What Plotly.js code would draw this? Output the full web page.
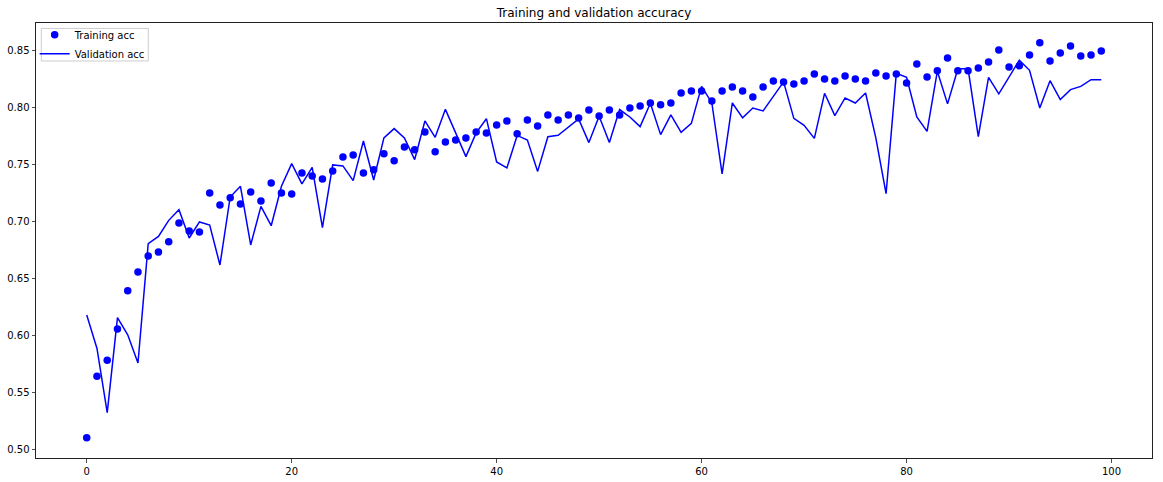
<!DOCTYPE html>
<html>
<head>
<meta charset="utf-8">
<script src="https://cdn.plot.ly/plotly-3.0.1.min.js"></script>
<style>html,body{margin:0;padding:0;background:#fff;}#chart{width:1163px;height:482px;}</style>
</head>
<body>
<div id="chart"></div>
<script>
const epochs = Array.from({length: 100}, (_, i) => i);

const trainingAcc = [
  0.510, 0.564, 0.578, 0.6055, 0.639, 0.6555, 0.6696, 0.673, 0.682, 0.6986,
  0.6916, 0.6907, 0.725, 0.7144, 0.7208, 0.7153, 0.7258, 0.7179, 0.7337, 0.725,
  0.7241, 0.7425, 0.7399, 0.7373, 0.7443, 0.7566, 0.7583, 0.7425, 0.7453, 0.7595,
  0.7533, 0.7654, 0.763, 0.7786, 0.7612, 0.7698, 0.7715, 0.7733, 0.7786, 0.7777,
  0.7847, 0.7882, 0.7769, 0.7891, 0.7838, 0.7935, 0.7891, 0.7935, 0.7909, 0.7979,
  0.7926, 0.7979, 0.7935, 0.7996, 0.8014, 0.804, 0.8024, 0.804, 0.8128, 0.8146,
  0.8146, 0.8058, 0.8146, 0.8181, 0.8146, 0.8093, 0.8181, 0.8234, 0.8225, 0.8207,
  0.8234, 0.8295, 0.8251, 0.8234, 0.8278, 0.8251, 0.8234, 0.8304, 0.8278, 0.8295,
  0.8216, 0.8383, 0.8269, 0.8322, 0.8436, 0.8322, 0.8322, 0.8348, 0.8401, 0.8506,
  0.8357, 0.8366, 0.8462, 0.8568, 0.8409, 0.848, 0.8541, 0.8453, 0.8462, 0.8497
];

const validationAcc = [
  0.6178, 0.5884, 0.532, 0.6154, 0.6004, 0.5756, 0.6804, 0.6868, 0.7009, 0.7103,
  0.6854, 0.6995, 0.6968, 0.6617, 0.7214, 0.7308, 0.6793, 0.7132, 0.6962, 0.7308,
  0.7507, 0.7329, 0.7475, 0.6945, 0.7496, 0.7487, 0.7358, 0.7706, 0.7363, 0.7733,
  0.7815, 0.7733, 0.7542, 0.7882, 0.7738, 0.7984, 0.7777, 0.7569, 0.7777, 0.7902,
  0.7522, 0.7469, 0.7755, 0.7715, 0.7439, 0.7744, 0.7756, 0.7832, 0.79, 0.7692,
  0.7923, 0.7692, 0.7982, 0.7917, 0.7832, 0.8037, 0.7762, 0.7935, 0.7782, 0.7861,
  0.8186, 0.804, 0.7417, 0.804, 0.7909, 0.7996, 0.797, 0.8098, 0.8225, 0.7905,
  0.7843, 0.7729, 0.8125, 0.7929, 0.8084, 0.804, 0.8128, 0.7733, 0.7243, 0.83,
  0.8265, 0.7917, 0.7791, 0.8318, 0.8032, 0.8339, 0.8342, 0.7744, 0.8265, 0.812,
  0.8274, 0.8415, 0.8327, 0.7996, 0.8236, 0.807, 0.8157, 0.8186, 0.8245, 0.8245
];

const xTicks = [0, 20, 40, 60, 80, 100];
const yTicks = [0.50, 0.55, 0.60, 0.65, 0.70, 0.75, 0.80, 0.85];

const font = 'DejaVu Sans, sans-serif';

const traces = [
  {
    x: epochs, y: trainingAcc, name: 'Training acc', type: 'scatter', mode: 'markers',
    marker: {color: '#0000ff', size: 7.5}
  },
  {
    x: epochs, y: validationAcc, name: 'Validation acc', type: 'scatter', mode: 'lines',
    line: {color: '#0000ff', width: 1.5}
  }
];

const axisCommon = {
  showgrid: false, zeroline: false, showline: true, mirror: true,
  linecolor: '#222', linewidth: 1, ticks: 'outside', ticklen: 3.5, tickwidth: 0.8,
  tickcolor: '#222', tickfont: {family: font, size: 10, color: '#000'}
};

const layout = {
  width: 1163, height: 482,
  paper_bgcolor: '#fff', plot_bgcolor: '#fff',
  margin: {l: 36, r: 10.5, t: 23.3, b: 23.7, pad: 0},
  title: {text: 'Training and validation accuracy', font: {family: font, size: 12, color: '#000'},
          x: 0.5, xref: 'paper', y: 1 - 13 / 482, yref: 'container', yanchor: 'middle'},
  xaxis: Object.assign({}, axisCommon, {range: [-4.95, 103.95], tickvals: xTicks,
          ticktext: xTicks.map(String)}),
  yaxis: Object.assign({}, axisCommon, {range: [0.49215, 0.87425], tickvals: yTicks,
          ticktext: yTicks.map(v => v.toFixed(2))}),
  showlegend: true,
  legend: {x: -0.0012, y: 1.00644, xanchor: 'left', yanchor: 'top', bgcolor: 'rgba(0,0,0,0)',
           borderwidth: 0, font: {family: font, size: 10, color: '#000'},
           tracegroupgap: 0, itemwidth: 30},
  shapes: [{
    type: 'rect', xref: 'paper', yref: 'paper', layer: 'above',
    x0: 0.00475, x1: 0.10058, y0: 0.91268, y1: 0.98759,
    line: {color: '#cccccc', width: 1}, fillcolor: 'rgba(255,255,255,0.8)'
  }]
};

Plotly.newPlot('chart', traces, layout, {displayModeBar: false, staticPlot: true});
</script>
</body>
</html>
